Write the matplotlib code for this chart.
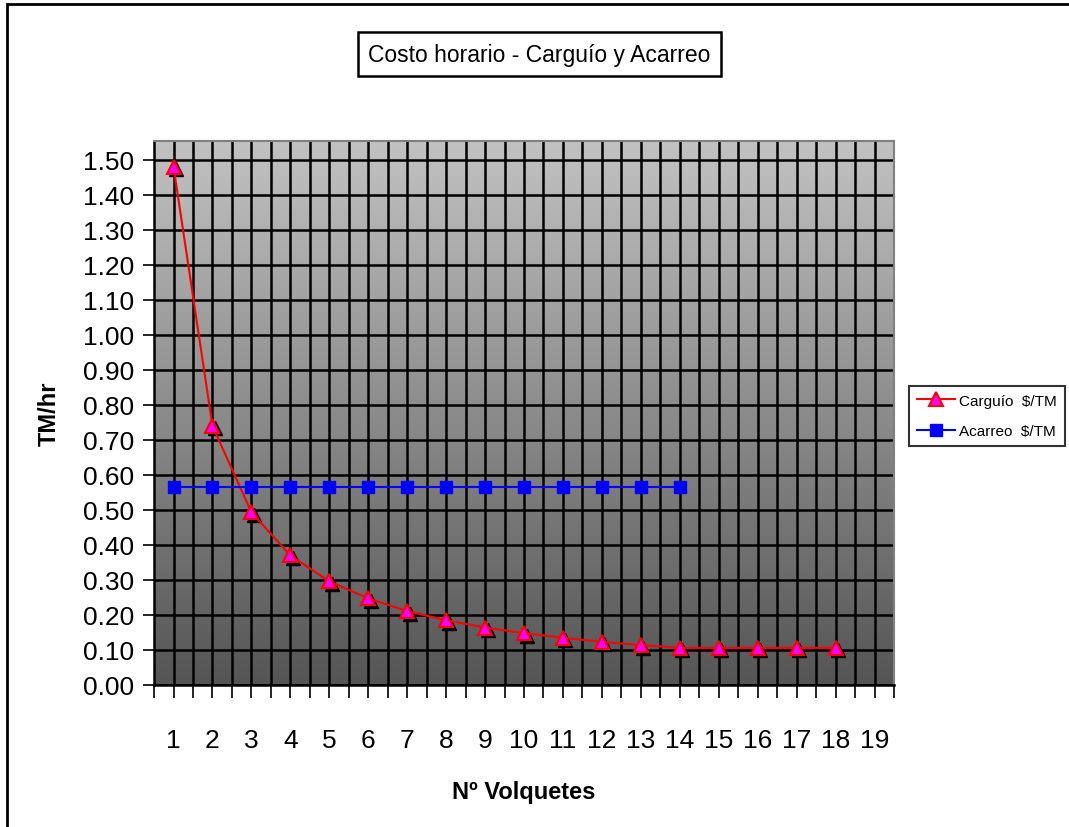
import matplotlib.pyplot as plt
import matplotlib.transforms as mtransforms
from matplotlib.colors import LinearSegmentedColormap
from matplotlib.patches import Rectangle
import numpy as np

plt.rcParams['font.family'] = ['Liberation Sans', 'DejaVu Sans']

volquetes = list(range(1, 19))
carguio = [1.48, 0.74, 0.493, 0.37, 0.296, 0.247, 0.211, 0.185, 0.164,
           0.148, 0.135, 0.123, 0.114, 0.106, 0.106, 0.106, 0.106, 0.106]
acarreo_n = list(range(1, 15))
acarreo = [0.565] * 14
xticks = list(range(1, 20))
yticks = [0.0, 0.1, 0.2, 0.3, 0.4, 0.5, 0.6, 0.7, 0.8, 0.9, 1.0, 1.1, 1.2, 1.3, 1.4, 1.5]

fig = plt.figure(figsize=(10.69, 8.28), dpi=100)
ax = fig.add_axes([0.1441, 0.1715, 0.6922, 0.657])

# gray gradient behind the plot area
grad = np.linspace(0, 1, 256).reshape(-1, 1)
cmap = LinearSegmentedColormap.from_list('fondo', ['#c2c2c2', '#555555'])
ax.imshow(grad, extent=[0.5, 19.5, 0, 1.553], aspect='auto', origin='upper',
          cmap=cmap, zorder=0)

ax.set_xlim(0.5, 19.5)
ax.set_ylim(0, 1.553)

for x in np.arange(1.0, 19.5, 0.5):
    ax.axvline(x, color='black', lw=1.8, zorder=1)
for y in yticks:
    ax.axhline(y, color='black', lw=1.8, zorder=1)

# shadow under the triangles
shadow = mtransforms.offset_copy(ax.transData, fig=fig, x=2.5, y=-2.5, units='dots')
ax.plot(volquetes, carguio, ls='none', marker='^', ms=10, color='black',
        transform=shadow, zorder=2)
ax.plot(volquetes, carguio, color='red', lw=1.5, marker='^', ms=10,
        mfc='#ff00ff', mec='red', mew=1.5, label='Carguío  $/TM', zorder=3)
ax.plot(acarreo_n, acarreo, color='blue', lw=1.5, marker='s', ms=8,
        mfc='blue', mec='blue', label='Acarreo  $/TM', zorder=3)

ax.set_xticks(xticks)
ax.set_xticks(np.arange(0.5, 20, 0.5), minor=True)
ax.set_xticklabels([str(v) for v in xticks], fontsize=19)
ax.tick_params(axis='x', which='both', length=9, width=1.2, direction='out', pad=22)
ax.set_yticks(yticks)
ax.set_yticklabels(['%.2f' % v for v in yticks], fontsize=19)
ax.tick_params(axis='y', length=8, width=1.2, direction='out', pad=6)

for s in ['top', 'right']:
    ax.spines[s].set_color('#808080')
    ax.spines[s].set_linewidth(1.5)
for s in ['left', 'bottom']:
    ax.spines[s].set_color('black')
    ax.spines[s].set_linewidth(1.8)

ax.set_xlabel('Nº Volquetes', fontsize=17, fontweight='bold', labelpad=20)
ax.set_ylabel('TM/hr', fontsize=17, fontweight='bold', labelpad=16)

fig.text(0.5047, 0.9335, 'Costo horario - Carguío y Acarreo', fontsize=16.5,
         ha='center', va='center',
         bbox=dict(boxstyle='square,pad=0.45', fc='white', ec='black', lw=1.8))

leg = fig.legend(loc='center left', bbox_to_anchor=(0.8503, 0.4964), fontsize=11,
                 frameon=True, fancybox=False, edgecolor='black', borderpad=0.5,
                 handlelength=2.5, labelspacing=1.1, borderaxespad=0, handletextpad=0.3)
leg.get_frame().set_linewidth(1.5)

# outer chart border, running off the right and bottom edges
fig.patches.append(Rectangle((7 / 1069, -0.1), 1.2, 1.1 - 5 / 828,
                             transform=fig.transFigure, fill=False, ec='black', lw=2))

fig.savefig('out.png', dpi=100)
